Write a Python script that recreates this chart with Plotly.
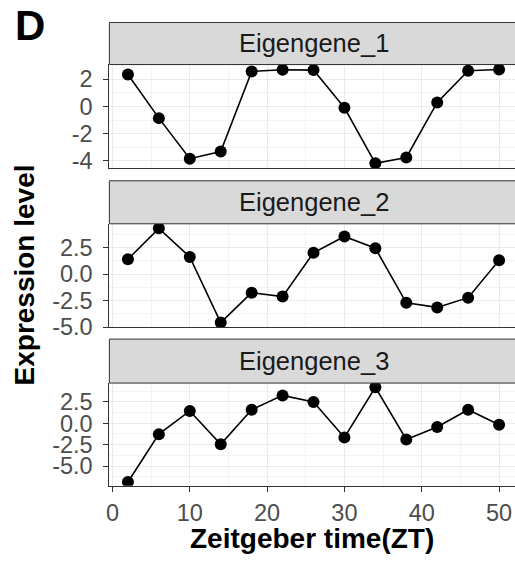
import plotly.graph_objects as go

# ---- data ----
zt = [2, 6, 10, 14, 18, 22, 26, 30, 34, 38, 42, 46, 50]
eigengene_1 = [2.35, -0.86, -3.84, -3.31, 2.57, 2.69, 2.67, -0.10, -4.18, -3.75, 0.29, 2.62, 2.71]
eigengene_2 = [1.42, 4.34, 1.63, -4.58, -1.75, -2.12, 2.03, 3.57, 2.46, -2.71, -3.14, -2.22, 1.32]
eigengene_3 = [-6.86, -1.27, 1.44, -2.45, 1.59, 3.26, 2.50, -1.65, 4.21, -1.88, -0.43, 1.59, -0.16]
panel_names = ["Eigengene_1", "Eigengene_2", "Eigengene_3"]
x_ticks = [0, 10, 20, 30, 40, 50]
y_ticks_1 = [-4, -2, 0, 2]
y_ticks_1_text = ["-4", "-2", "0", "2"]
y_ticks_23 = [-5.0, -2.5, 0.0, 2.5]
y_ticks_23_text = ["-5.0", "-2.5", "0.0", "2.5"]

W, H = 515, 571
def xp(px):
    return px / W
def yp(py):
    return 1 - py / H

FONT = "Liberation Sans, Arial, sans-serif"
GRID = "#EBEBEB"
MINOR = "#F3F3F3"
BORDER = "#333333"
TICKSIZE = 23.5

series = [eigengene_1, eigengene_2, eigengene_3]
# (strip_top, plot_top, plot_bottom) in pixels
panels = [(23, 66, 172), (185, 229, 335), (347, 392, 497)]
yranges = [[-4.53, 3.08], [-5.03, 4.77], [-7.29, 4.70]]
ytickvals = [y_ticks_1, y_ticks_23, y_ticks_23]
yticktext = [y_ticks_1_text, y_ticks_23_text, y_ticks_23_text]
yminor = [1.0, 1.25, 1.25]
left = 107
xrange_ = [-0.4, 52.06]

fig = go.Figure()
layout = dict(width=W, height=H, margin=dict(l=0, r=0, t=0, b=0),
              paper_bgcolor="white", plot_bgcolor="white", showlegend=False,
              font=dict(family=FONT))
shapes = []
annotations = []

for i, (vals, (st, pt, pb)) in enumerate(zip(series, panels)):
    n = "" if i == 0 else str(i + 1)
    fig.add_trace(go.Scatter(x=zt, y=vals, mode="lines+markers",
                             line=dict(color="black", width=1.6),
                             marker=dict(color="black", size=12),
                             xaxis="x" + n, yaxis="y" + n))
    last = i == 2
    layout["xaxis" + n] = dict(
        domain=[xp(left), 1], anchor="y" + n, range=xrange_,
        tickvals=x_ticks, showticklabels=last,
        ticks="outside" if last else "", ticklen=5, tickcolor=BORDER, tickwidth=1,
        ticklabelstandoff=1,
        tickfont=dict(size=TICKSIZE, color="#4D4D4D", family=FONT),
        showline=True, linecolor=BORDER, linewidth=1,
        showgrid=True, gridcolor=GRID, gridwidth=1.2,
        minor=dict(dtick=5, tick0=0, showgrid=True, gridcolor=MINOR, gridwidth=0.7),
        zeroline=False, fixedrange=True)
    layout["yaxis" + n] = dict(
        domain=[yp(pb), yp(pt)], anchor="x" + n, range=yranges[i],
        tickvals=ytickvals[i], ticktext=yticktext[i],
        ticks="outside", ticklen=5, tickcolor=BORDER, tickwidth=1,
        ticklabelstandoff=6,
        tickfont=dict(size=TICKSIZE, color="#4D4D4D", family=FONT),
        showline=True, linecolor=BORDER, linewidth=1,
        showgrid=True, gridcolor=GRID, gridwidth=1.2,
        minor=dict(dtick=yminor[i], tick0=0, showgrid=True, gridcolor=MINOR, gridwidth=0.7),
        zeroline=False, fixedrange=True)
    shapes.append(dict(type="rect", xref="paper", yref="paper",
                       x0=xp(left), x1=1.01, y0=yp(pt), y1=yp(st),
                       fillcolor="#D9D9D9", line=dict(color=BORDER, width=1)))
    annotations.append(dict(text=panel_names[i], xref="paper", yref="paper",
                            x=xp(313), y=yp((st + pt) / 2),
                            xanchor="center", yanchor="middle", showarrow=False,
                            font=dict(size=25.5, color="#1A1A1A", family=FONT)))

annotations.append(dict(text="Zeitgeber time(ZT)", xref="paper", yref="paper",
                        x=xp(311), y=yp(551), xanchor="center", yanchor="middle",
                        showarrow=False,
                        font=dict(size=28, color="black", family=FONT, weight="bold")))
annotations.append(dict(text="Expression level", xref="paper", yref="paper",
                        x=xp(22), y=yp(281), xanchor="center", yanchor="middle",
                        textangle=-90, showarrow=False,
                        font=dict(size=28, color="black", family=FONT, weight="bold")))
annotations.append(dict(text="D", xref="paper", yref="paper",
                        x=xp(27), y=yp(26), xanchor="center", yanchor="middle",
                        showarrow=False,
                        font=dict(size=42, color="black", family=FONT, weight="bold")))

layout["shapes"] = shapes
layout["annotations"] = annotations
fig.update_layout(**layout)
fig.write_html("out.html", config={"displayModeBar": False},
               post_script="document.body.style.margin='0';document.body.style.overflow='hidden';")
